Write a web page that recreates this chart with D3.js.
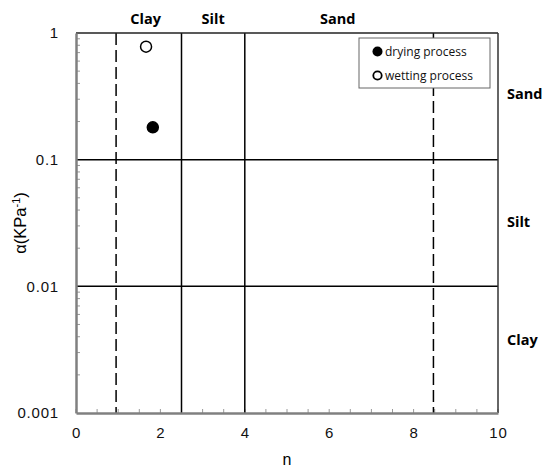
<!DOCTYPE html>
<html>
<head>
<meta charset="utf-8">
<script src="https://cdn.jsdelivr.net/npm/d3@7"></script>
<style>
  body { margin: 0; background: #fff; }
  text { font-family: "Liberation Sans", Arial, sans-serif; }
  .cls { font-family: "Open Sans", "Noto Sans", sans-serif; font-weight: bold; font-size: 14.5px; }
</style>
</head>
<body>
<div id="chart"></div>
<script>
// Data
const seriesNames = ["drying process", "wetting process"];
const nValues = [1.82, 1.66];
const alphaValues = [0.18, 0.78];

// texture class boundaries
const nSolidBounds = [2.5, 4];
const nDashedBounds = [0.95, 8.47];
const alphaBounds = [0.01, 0.1];

const xTicks = [0, 2, 4, 6, 8, 10];
const yTicks = [0.001, 0.01, 0.1, 1];
const yTickLabels = ["0.001", "0.01", "0.1", "1"];

const topClasses = [{ label: "Clay", n: 1.65 }, { label: "Silt", n: 3.25 }, { label: "Sand", n: 6.2 }];
const sideClasses = [{ label: "Sand", a: 0.33 }, { label: "Silt", a: 0.032 }, { label: "Clay", a: 0.0038 }];

const margin = { top: 33, right: 57, bottom: 57, left: 76 };
const W = 555, H = 470;
const width = W - margin.left - margin.right;
const height = H - margin.top - margin.bottom;

const svg = d3.select("#chart").append("svg")
    .attr("width", W)
    .attr("height", H)
    .append("g")
    .attr("transform", `translate(${margin.left},${margin.top})`);

const x = d3.scaleLinear().domain([0, 10]).range([0, width]);
const y = d3.scaleLog().domain([0.001, 1]).range([height, 0]);

// minor ticks, pointing inward
const xMinor = d3.range(0, 10.01, 0.5);
svg.append("g").selectAll("line")
    .data(xMinor)
    .join("line")
    .attr("x1", d => x(d)).attr("x2", d => x(d))
    .attr("y1", height).attr("y2", height - 4)
    .attr("stroke", "#999").attr("stroke-width", 1);

const yMinor = [];
[0.001, 0.01, 0.1].forEach(base => {
    for (let k = 2; k <= 9; k++) yMinor.push(base * k);
});
svg.append("g").selectAll("line")
    .data(yMinor)
    .join("line")
    .attr("x1", 0).attr("x2", 4)
    .attr("y1", d => y(d)).attr("y2", d => y(d))
    .attr("stroke", "#999").attr("stroke-width", 1);

// class boundaries
svg.append("g").selectAll("line")
    .data(nSolidBounds)
    .join("line")
    .attr("x1", d => x(d)).attr("x2", d => x(d))
    .attr("y1", 0).attr("y2", height)
    .attr("stroke", "#000").attr("stroke-width", 1.5);

svg.append("g").selectAll("line")
    .data(nDashedBounds)
    .join("line")
    .attr("x1", d => x(d)).attr("x2", d => x(d))
    .attr("y1", 0).attr("y2", height)
    .attr("stroke", "#000").attr("stroke-width", 1.5)
    .attr("stroke-dasharray", "12,5");

svg.append("g").selectAll("line")
    .data(alphaBounds)
    .join("line")
    .attr("x1", 0).attr("x2", width)
    .attr("y1", d => y(d)).attr("y2", d => y(d))
    .attr("stroke", "#000").attr("stroke-width", 1.5);

// top and right frame
svg.append("line").attr("x1", 0).attr("x2", width).attr("y1", 0).attr("y2", 0)
    .attr("stroke", "#222").attr("stroke-width", 1.5);
svg.append("line").attr("x1", width).attr("x2", width).attr("y1", 0).attr("y2", height)
    .attr("stroke", "#333").attr("stroke-width", 1.5);

// axes
const xAxis = svg.append("g")
    .attr("transform", `translate(0,${height})`)
    .call(d3.axisBottom(x).tickValues(xTicks).tickSize(0).tickPadding(14).tickFormat(d3.format("d")));
const yAxis = svg.append("g")
    .call(d3.axisLeft(y).tickValues(yTicks).tickSize(0).tickPadding(17).tickFormat((d, i) => yTickLabels[i]));

[xAxis, yAxis].forEach(a => {
    a.select(".domain").attr("stroke", "#808080").attr("stroke-width", 2.5);
    a.selectAll(".tick text")
        .style("font-family", "'Liberation Sans', Arial, sans-serif")
        .style("font-size", "15px")
        .style("letter-spacing", "0.8px")
        .style("fill", "#111");
});

// axis titles
svg.append("text")
    .attr("x", width / 2)
    .attr("y", height + 52)
    .attr("text-anchor", "middle")
    .style("font-size", "16px")
    .text("n");

const yTitle = svg.append("text")
    .attr("transform", `translate(${-50},${height / 2}) rotate(-90)`)
    .attr("text-anchor", "middle")
    .style("font-size", "16.5px");
yTitle.append("tspan").text("α(KPa");
yTitle.append("tspan").attr("dy", -6).style("font-size", "11px").text("-1");
yTitle.append("tspan").attr("dy", 6).text(")");

// class labels
svg.append("g").selectAll("text")
    .data(topClasses)
    .join("text")
    .attr("class", "cls")
    .attr("x", d => x(d.n))
    .attr("y", -9)
    .attr("text-anchor", "middle")
    .text(d => d.label);

svg.append("g").selectAll("text")
    .data(sideClasses)
    .join("text")
    .attr("class", "cls")
    .attr("x", width + 9)
    .attr("y", d => y(d.a) + 5)
    .text(d => d.label);

// points
svg.append("g").selectAll("circle")
    .data(nValues)
    .join("circle")
    .attr("cx", d => x(d))
    .attr("cy", (d, i) => y(alphaValues[i]))
    .attr("r", 5.5)
    .attr("fill", (d, i) => i === 0 ? "#000" : "#fff")
    .attr("stroke", "#000")
    .attr("stroke-width", 1.5);

// legend
const legend = svg.append("g").attr("transform", `translate(${width - 139},5)`);
legend.append("rect")
    .attr("width", 131).attr("height", 50)
    .attr("fill", "#fff").attr("stroke", "#666").attr("stroke-width", 1);
seriesNames.forEach((name, i) => {
    legend.append("circle")
        .attr("cx", 18.5).attr("cy", 13.5 + i * 24)
        .attr("r", i === 0 ? 5 : 4.2)
        .attr("fill", i === 0 ? "#000" : "#fff")
        .attr("stroke", "#000").attr("stroke-width", i === 0 ? 0 : 1.8);
    legend.append("text")
        .attr("x", 26).attr("y", 18 + i * 24)
        .style("font-family", "'Open Sans', 'Noto Sans', sans-serif")
        .style("font-size", "12px")
        .style("fill", "#111")
        .text(name);
});
</script>
</body>
</html>
